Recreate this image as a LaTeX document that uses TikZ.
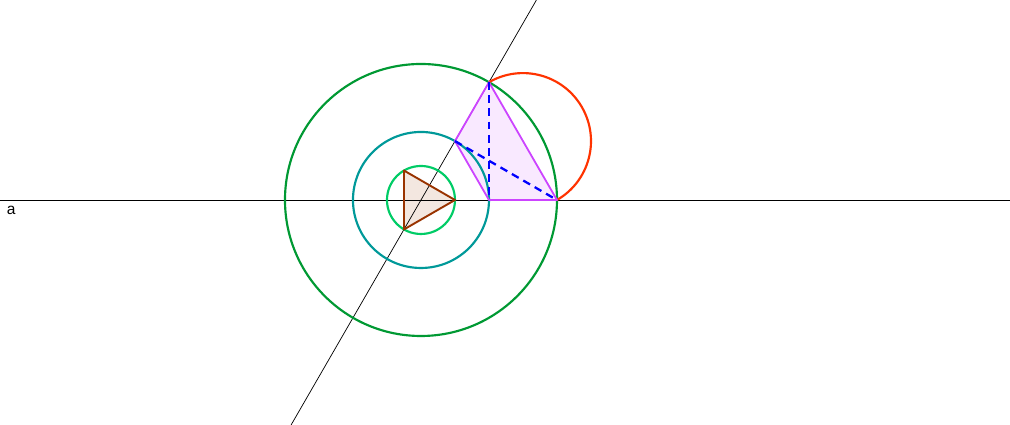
\documentclass[tikz,border=0pt]{standalone}
\usepackage{fontspec}
\setmainfont{Liberation Sans}
\definecolor{gbig}{HTML}{009933}
\definecolor{gsmall}{HTML}{00CC66}
\definecolor{teal2}{HTML}{009999}
\definecolor{orng}{HTML}{FF3300}
\definecolor{mag}{HTML}{CC44FF}
\definecolor{brn}{HTML}{993300}
\begin{document}
\begin{tikzpicture}[x=1cm,y=1cm,
  thinline/.style={black, line width=0.6pt},
  circ/.style={line width=1.8pt},
  blued/.style={blue, line width=1.9pt, dash pattern=on 6.5pt off 4.5pt}]
\useasboundingbox (-12.382,-6.618) rectangle (17.324,5.882);
\fill[white] (-12.382,-6.618) rectangle (17.324,5.882);
\coordinate (O) at (0,0);
\coordinate (A) at (60:4);
\coordinate (B) at (60:2);
\coordinate (C) at (2,0);
\coordinate (D) at (4,0);
\coordinate (T1) at (0:1);
\coordinate (T2) at (120:1);
\coordinate (T3) at (240:1);
\coordinate (L1) at (-12.382,0);
\coordinate (L2) at (17.324,0);
\coordinate (P1) at (60:6.79);
\coordinate (P2) at (240:7.64);
% fills
\fill[mag!12] (A) -- (D) -- (C) -- (B) -- cycle;
\fill[brn!12] (T1) -- (T2) -- (T3) -- cycle;
% lines
\draw[thinline] (L1) -- (L2);
\draw[thinline] (P2) -- (P1);
\node[anchor=west, font=\fontsize{13}{15}\selectfont, inner sep=0pt] (lbl) at (-12.19,-0.30) {a};
% circles
\draw[circ, gbig] (O) circle (4);
\draw[circ, teal2] (O) circle (2);
\draw[circ, gsmall] (O) circle (1);
\draw[circ, orng] (A) arc[start angle=120, end angle=-60, radius=2];
% triangle
\draw[line width=1.6pt, brn, line join=round] (T1) -- (T2) -- (T3) -- cycle;
% magenta quad
\draw[line width=1.5pt, mag, line join=round] (A) -- (D) -- (C) -- (B) -- cycle;
% blue dashed
\draw[blued] (A) -- (C);
\draw[blued] (B) -- (D);
\end{tikzpicture}
\end{document}
